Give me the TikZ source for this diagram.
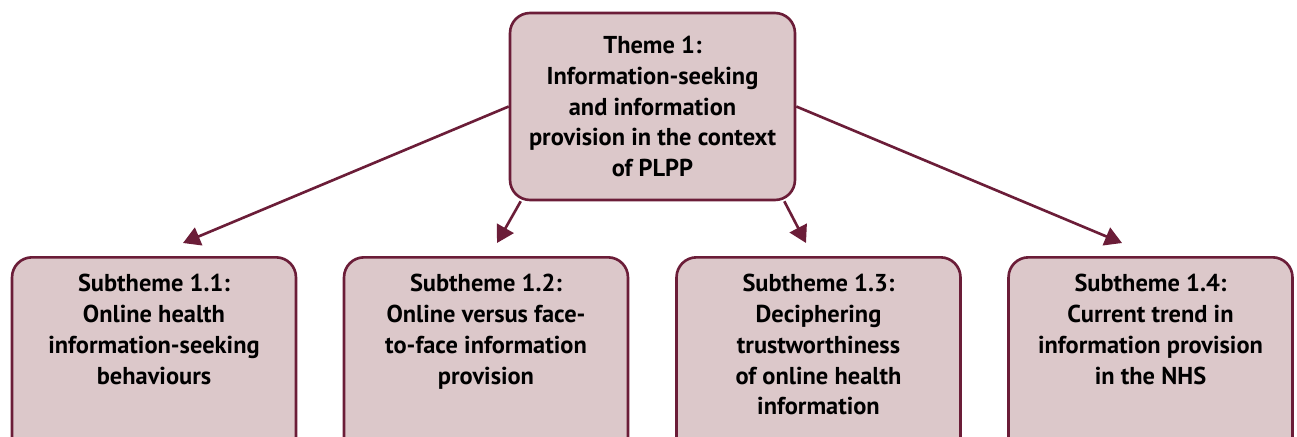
\documentclass[tikz,border=0pt]{standalone}
\usepackage{fontspec}
\setmainfont{PT Sans}
\usetikzlibrary{arrows.meta}
\definecolor{plum}{HTML}{6B1D38}
\definecolor{blush}{HTML}{DCC8CA}

\begin{document}
\begin{tikzpicture}[x=0.02cm,y=-0.02cm,
  box/.style={draw=plum,fill=blush,line width=1.5pt,rounded corners=0.4cm},
  txt/.style={align=center,font=\bfseries\fontsize{13.9}{17.6}\selectfont,inner sep=0pt},
  link/.style={draw=plum,line width=1.5pt,-{Triangle[length=0.34cm,width=0.38cm]}}]
\useasboundingbox (0,0) rectangle (1297,436);
\clip (0,0) rectangle (1297,436);
% main theme
\node[box,txt,minimum width=5.7cm,minimum height=3.74cm] (theme) at (652.5,106.5)
  {Theme 1:\\Information-seeking\\and information\\provision in the context\\of PLPP};
% subthemes
\node[box,minimum width=5.68cm,minimum height=5cm,anchor=north] (s1) at (154,256) {};
\node[txt,anchor=north] (s1t) at ([yshift=-0.35cm]s1.north)
  {Subtheme 1.1:\\Online health\\information-seeking\\behaviours};
\node[box,minimum width=5.68cm,minimum height=5cm,anchor=north] (s2) at (486,256) {};
\node[txt,anchor=north] (s2t) at ([yshift=-0.35cm]s2.north)
  {Subtheme 1.2:\\Online versus face-\\to-face information\\provision};
\node[box,minimum width=5.68cm,minimum height=5cm,anchor=north] (s3) at (818.5,256) {};
\node[txt,anchor=north] (s3t) at ([yshift=-0.35cm]s3.north)
  {Subtheme 1.3:\\Deciphering\\trustworthiness\\of online health\\information};
\node[box,minimum width=5.68cm,minimum height=5cm,anchor=north] (s4) at (1150.5,256) {};
\node[txt,anchor=north] (s4t) at ([yshift=-0.35cm]s4.north)
  {Subtheme 1.4:\\Current trend in\\information provision\\in the NHS};
% links
\draw[link] (theme.west) -- ([xshift=0.58cm,yshift=0.26cm]s1.north);
\draw[link] ([xshift=0.24cm]theme.south west) -- ([xshift=0.22cm,yshift=0.26cm]s2.north);
\draw[link] ([xshift=-0.24cm]theme.south east) -- ([xshift=-0.25cm,yshift=0.26cm]s3.north);
\draw[link] (theme.east) -- ([xshift=-0.57cm,yshift=0.26cm]s4.north);
\end{tikzpicture}
\end{document}
